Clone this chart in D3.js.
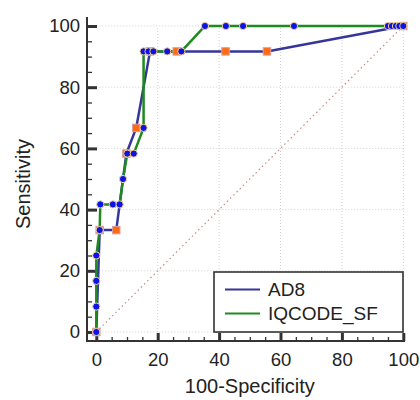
<!DOCTYPE html>
<html>
<head>
<meta charset="utf-8">
<script src="https://cdn.jsdelivr.net/npm/d3@7"></script>
<style>
  body { margin: 0; background: #fff; }
  svg text { font-family: "Liberation Sans", Arial, sans-serif; fill: #222; }
</style>
</head>
<body>
<svg width="420" height="400"></svg>
<script>
// curve points (100-specificity, sensitivity)
let ad8_x = [0, 1.1, 6.5, 9.8, 13.0, 17.5, 26.2, 42.1, 55.6, 100];
let ad8_y = [0, 33.3, 33.3, 58.3, 66.7, 91.7, 91.7, 91.7, 91.7, 100];

let iqcode_x = [0, 0, 0, 0, 1.1, 1.3, 5.4, 7.6, 8.7, 10.1, 12.2, 15.4, 15.4, 17.0, 18.6, 23.1, 27.7, 35.4, 42.2, 47.8, 64.4, 95.0, 96.3, 97.6, 98.7, 100];
let iqcode_y = [0, 8.3, 16.7, 25, 33.3, 41.7, 41.7, 41.7, 50, 58.3, 58.3, 66.7, 91.7, 91.7, 91.7, 91.7, 91.7, 100, 100, 100, 100, 100, 100, 100, 100, 100];

let series_names = ["AD8", "IQCODE_SF"];
let major_ticks = [0, 20, 40, 60, 80, 100];
let minor_ticks = d3.range(0, 101, 5);

let cores = {
  ad8 : "#35359a",
  iqcode : "#1f8a1f",
  dot : "#0a14e6",
  quadrado : "#ff6a10"
};

let svg = d3.select("svg");

let x = d3.scaleLinear().domain([0, 100]).range([96.3, 403.3]);
let y = d3.scaleLinear().domain([0, 100]).range([332, 26]);

let eixo_x_pos = 341;
let eixo_y_pos = 87;

// grade pontilhada
svg.append("g")
  .selectAll("line.vgrid")
  .data(major_ticks.slice(1))
  .join("line")
    .attr("x1", d => x(d)).attr("x2", d => x(d))
    .attr("y1", y(0)).attr("y2", y(100))
    .attr("stroke", "#cfcfcf")
    .attr("stroke-dasharray", "1,2");

svg.append("g")
  .selectAll("line.hgrid")
  .data(major_ticks)
  .join("line")
    .attr("x1", x(0)).attr("x2", x(100))
    .attr("y1", d => y(d)).attr("y2", d => y(d))
    .attr("stroke", "#cfcfcf")
    .attr("stroke-dasharray", "1,2");

// diagonal de referencia
svg.append("line")
  .attr("x1", x(0)).attr("y1", y(0))
  .attr("x2", x(100)).attr("y2", y(100))
  .attr("stroke", "#c48a8a")
  .attr("stroke-width", 1.2)
  .attr("stroke-dasharray", "1.5,3");

// eixos
let eixo_y = svg.append("g").attr("transform", "translate(" + eixo_y_pos + ",0)");
eixo_y.call(d3.axisLeft(y).tickValues(minor_ticks).tickSizeInner(-5).tickSizeOuter(0).tickFormat(""));
eixo_y.call(g => g.selectAll(".tick line").attr("stroke", "#333").attr("stroke-width", 1.3));
let eixo_y_maior = svg.append("g").attr("transform", "translate(" + eixo_y_pos + ",0)");
eixo_y_maior.call(d3.axisLeft(y).tickValues(major_ticks).tickSizeInner(-10).tickSizeOuter(0).tickPadding(7));
eixo_y_maior.call(g => g.selectAll(".tick line").attr("stroke", "#333").attr("stroke-width", 3));
eixo_y_maior.selectAll("text").attr("font-size", 18.5);

let eixo_x = svg.append("g").attr("transform", "translate(0," + eixo_x_pos + ")");
eixo_x.call(d3.axisBottom(x).tickValues(minor_ticks).tickSizeInner(-4).tickSizeOuter(0).tickFormat(""));
eixo_x.call(g => g.selectAll(".tick line").attr("stroke", "#333").attr("stroke-width", 1.3));
let eixo_x_maior = svg.append("g").attr("transform", "translate(0," + eixo_x_pos + ")");
eixo_x_maior.call(d3.axisBottom(x).tickValues(major_ticks).tickSizeInner(-8).tickSizeOuter(0).tickPadding(12));
eixo_x_maior.call(g => g.selectAll(".tick line").attr("stroke", "#333").attr("stroke-width", 3));
eixo_x_maior.selectAll("text").attr("font-size", 18.5);

svg.selectAll(".domain").remove();

svg.append("line")
  .attr("x1", eixo_y_pos).attr("x2", eixo_y_pos)
  .attr("y1", 17).attr("y2", eixo_x_pos + 1)
  .attr("stroke", "#333").attr("stroke-width", 2);
svg.append("line")
  .attr("x1", eixo_y_pos - 1).attr("x2", 405)
  .attr("y1", eixo_x_pos).attr("y2", eixo_x_pos)
  .attr("stroke", "#333").attr("stroke-width", 2);

// titulos
svg.append("text")
  .attr("x", x(50)).attr("y", 393)
  .attr("text-anchor", "middle")
  .attr("font-size", 20)
  .text("100-Specificity");

svg.append("text")
  .attr("transform", "translate(30,184) rotate(-90)")
  .attr("text-anchor", "middle")
  .attr("font-size", 20)
  .text("Sensitivity");

// curvas
let ad8 = ad8_x.map((d, i) => ({ fpr : d, sens : ad8_y[i] }));
let iqcode = iqcode_x.map((d, i) => ({ fpr : d, sens : iqcode_y[i] }));

let linha = d3.line().x(d => x(d.fpr)).y(d => y(d.sens));

svg.append("path")
  .datum(ad8)
  .attr("d", linha)
  .attr("fill", "none")
  .attr("stroke", cores.ad8)
  .attr("stroke-width", 2.5);

svg.append("path")
  .datum(iqcode)
  .attr("d", linha)
  .attr("fill", "none")
  .attr("stroke", cores.iqcode)
  .attr("stroke-width", 2.5);

let lado = 7.5;
svg.append("g")
  .selectAll("rect")
  .data(ad8)
  .join("rect")
    .attr("x", d => x(d.fpr) - lado / 2)
    .attr("y", d => y(d.sens) - lado / 2)
    .attr("width", lado)
    .attr("height", lado)
    .attr("fill", cores.quadrado)
    .attr("stroke", "#d8a0a0")
    .attr("stroke-width", 1);

svg.append("g")
  .selectAll("circle")
  .data(iqcode)
  .join("circle")
    .attr("cx", d => x(d.fpr))
    .attr("cy", d => y(d.sens))
    .attr("r", 3.6)
    .attr("fill", cores.dot)
    .attr("stroke", "#f2cf95")
    .attr("stroke-width", 1);

// legenda
let legenda = svg.append("g").attr("transform", "translate(214,272)");
legenda.append("rect")
  .attr("width", 189).attr("height", 60)
  .attr("fill", "#fff")
  .attr("stroke", "#333")
  .attr("stroke-width", 1.6);

legenda.selectAll("line")
  .data(series_names)
  .join("line")
    .attr("x1", 11).attr("x2", 46)
    .attr("y1", (d, i) => 17.5 + i * 24)
    .attr("y2", (d, i) => 17.5 + i * 24)
    .attr("stroke", (d, i) => i == 0 ? cores.ad8 : cores.iqcode)
    .attr("stroke-width", 2);

legenda.selectAll("text")
  .data(series_names)
  .join("text")
    .attr("x", 54)
    .attr("y", (d, i) => 24 + i * 24)
    .attr("font-size", 19)
    .text(d => d);
</script>
</body>
</html>
